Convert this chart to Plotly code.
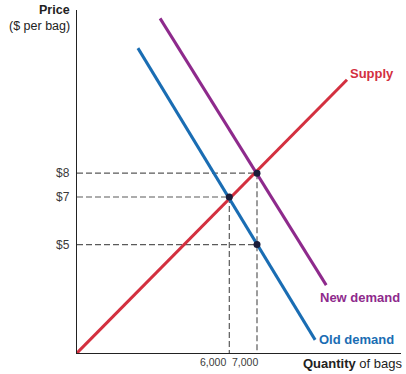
import plotly.graph_objects as go

# ---- data (quantity in bags, price in $ per bag) ----
supply_q = [500, 10250]
supply_p = [0.45, 11.92]
old_demand_q = [2700, 9100]
old_demand_p = [13.25, 1.0]
new_demand_q = [3500, 9500]
new_demand_p = [14.5, 3.3]

points_q = [6000, 7000, 7000]
points_p = [7, 8, 5]

price_ticks = [5, 7, 8]
price_tick_labels = ["$5", "$7", "$8"]
qty_ticks = [6000, 7000]
qty_tick_labels = ["6,000", "7,000"]

x_range = [500, 12200]
y_range = [0.45, 14.85]

RED = "#d3303f"
PURPLE = "#8e2a8c"
BLUE = "#1a6db3"
DOT = "#1b1d3a"
DASH = "#5a5a5a"
FONT = "Liberation Sans, Arial, sans-serif"

fig = go.Figure()

# dashed guide lines
for q, p in zip(points_q, points_p):
    fig.add_trace(go.Scatter(x=[x_range[0], q], y=[p, p], mode="lines",
                             line=dict(color=DASH, width=1.2, dash="6px,3px"),
                             hoverinfo="skip", showlegend=False))
for q, p in [(6000, 7), (7000, 8)]:
    fig.add_trace(go.Scatter(x=[q, q], y=[p, y_range[0]], mode="lines",
                             line=dict(color=DASH, width=1.2, dash="6px,3px"),
                             hoverinfo="skip", showlegend=False))

fig.add_trace(go.Scatter(x=supply_q, y=supply_p, mode="lines",
                         line=dict(color=RED, width=3), showlegend=False))
fig.add_trace(go.Scatter(x=new_demand_q, y=new_demand_p, mode="lines",
                         line=dict(color=PURPLE, width=3), showlegend=False))
fig.add_trace(go.Scatter(x=old_demand_q, y=old_demand_p, mode="lines",
                         line=dict(color=BLUE, width=3), showlegend=False))
fig.add_trace(go.Scatter(x=points_q, y=points_p, mode="markers",
                         marker=dict(color=DOT, size=7), showlegend=False))

annotations = [
    dict(text="<b>Price</b>", xref="paper", yref="paper", x=0, y=1, xanchor="right",
         yanchor="middle", xshift=-5, yshift=0, showarrow=False,
         font=dict(family=FONT, size=12.5, color="#222222")),
    dict(text="($ per bag)", xref="paper", yref="paper", x=0, y=1, xanchor="right",
         yanchor="middle", xshift=-5, yshift=-16, showarrow=False,
         font=dict(family=FONT, size=12.5, color="#222222")),
    dict(text="<b>Quantity</b> of bags", xref="paper", yref="paper", x=1, y=0,
         xanchor="right", yanchor="top", xshift=3, yshift=-1, showarrow=False,
         font=dict(family=FONT, size=13, color="#222222")),
    dict(text="<b>Supply</b>", x=10287, y=12.18, xanchor="left", yanchor="middle",
         showarrow=False, font=dict(family=FONT, size=13, color=RED)),
    dict(text="<b>New demand</b>", x=9203, y=2.76, xanchor="left", yanchor="middle",
         showarrow=False, font=dict(family=FONT, size=13, color=PURPLE)),
    dict(text="<b>Old demand</b>", x=9167, y=1.0, xanchor="left", yanchor="middle",
         showarrow=False, font=dict(family=FONT, size=13, color=BLUE)),
]
for q, lab, shift in zip(qty_ticks, qty_tick_labels, [-1, 3]):
    annotations.append(dict(text=lab, x=q, xref="x", yref="paper", y=0,
                            xanchor="right", yanchor="top", xshift=shift, yshift=-1,
                            showarrow=False,
                            font=dict(family=FONT, size=10.5, color="#3a3a3a")))

fig.update_layout(
    width=406, height=374,
    margin=dict(l=77, r=5, t=10, b=21),
    plot_bgcolor="white", paper_bgcolor="white",
    font=dict(family=FONT, size=11, color="#3a3a3a"),
    annotations=annotations,
    xaxis=dict(range=x_range, showgrid=False, zeroline=False, showline=True,
               linecolor="#222222", linewidth=1.3, showticklabels=False, ticks=""),
    yaxis=dict(range=y_range, showgrid=False, zeroline=False, showline=True,
               linecolor="#222222", linewidth=1.3, tickvals=price_ticks,
               ticktext=price_tick_labels, ticks="", ticklabelstandoff=4,
               tickfont=dict(family=FONT, size=12, color="#3a3a3a")),
)

fig.write_html("out.html", config={"displayModeBar": False},
               post_script="document.body.style.margin='0';document.body.style.overflow='hidden';")
